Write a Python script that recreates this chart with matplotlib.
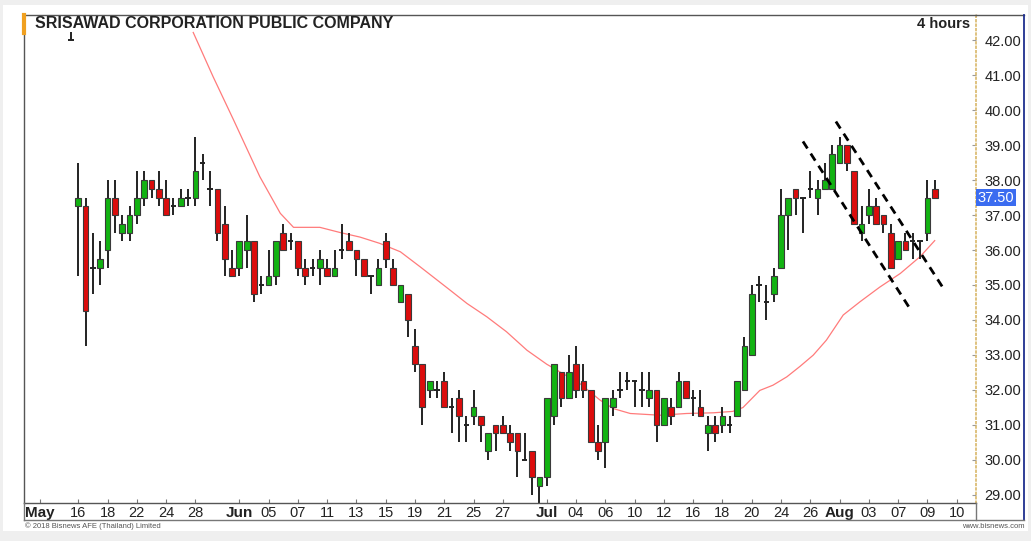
import matplotlib
matplotlib.use('Agg')
import matplotlib.pyplot as plt
from matplotlib.patches import Rectangle
from matplotlib.lines import Line2D
import matplotlib.transforms as mtransforms

plt.rcParams['font.family'] = ['Liberation Sans', 'DejaVu Sans']

# 4-hour candles, index 0..118 (two per trading day)
opens = [42.0,
         37.25, 37.25, 35.5, 35.5, 36.0, 37.5, 36.5, 36.5, 37.0, 37.5,
         38.0, 37.75, 37.5, 37.25, 37.25, 37.5, 37.5, 38.5, 37.75, 37.75,
         36.75, 35.5, 35.5, 36.0, 36.25, 35.0, 35.0, 35.25, 36.5, 36.25,
         36.25, 35.5, 35.5, 35.5, 35.5, 35.25, 36.0, 36.25, 36.0, 35.75,
         35.25, 35.0, 36.25, 35.5, 34.5, 34.75, 33.25, 32.75, 32.0, 32.0,
         32.25, 31.5, 31.75, 31.0, 31.25, 31.25, 30.25, 31.0, 31.0, 30.75,
         30.75, 30.0, 30.25, 29.25, 29.5, 31.25, 32.5, 31.75, 32.75, 32.25,
         32.0, 30.5, 30.5, 31.5, 32.0, 32.25, 32.25, 32.0, 31.75, 32.0,
         31.0, 31.5, 31.5, 32.25, 31.75, 31.5, 30.75, 31.0, 31.0, 31.0,
         31.25, 32.0, 33.0, 35.0, 34.5, 34.75, 35.5, 37.0, 37.75, 37.5,
         37.75, 37.5, 37.75, 37.75, 38.5, 39.0, 38.25, 36.5, 37.0, 37.25,
         37.0, 36.5, 35.75, 36.25, 36.25, 36.25, 36.5, 37.75]
highs = [42.25,
         38.5, 37.5, 36.5, 36.25, 38.0, 38.0, 37.0, 37.25, 38.25, 38.25,
         38.0, 38.25, 38.0, 37.5, 37.75, 37.75, 39.25, 38.75, 38.25, 37.75,
         37.25, 36.0, 36.25, 37.0, 36.25, 35.25, 36.0, 36.25, 36.75, 36.5,
         36.25, 35.75, 35.75, 36.0, 35.75, 36.0, 36.75, 36.5, 36.0, 35.75,
         35.25, 35.75, 36.5, 35.75, 35.0, 34.75, 33.75, 32.75, 32.25, 32.25,
         32.5, 31.75, 32.0, 31.25, 32.0, 31.25, 30.75, 31.0, 31.25, 31.0,
         30.75, 30.75, 30.25, 29.5, 31.75, 32.75, 32.5, 33.0, 33.25, 32.75,
         32.0, 31.0, 31.75, 32.0, 32.5, 32.5, 32.25, 32.5, 32.5, 32.0,
         31.75, 31.75, 32.5, 32.25, 32.0, 32.0, 31.25, 31.25, 31.5, 31.25,
         32.25, 33.5, 35.0, 35.25, 35.0, 35.5, 37.75, 37.5, 37.75, 37.5,
         38.25, 38.0, 38.5, 39.0, 39.25, 39.0, 38.25, 37.25, 37.75, 37.5,
         37.0, 36.75, 36.25, 36.5, 36.5, 36.25, 38.0, 38.0]
lows = [42.0,
        35.25, 33.25, 34.75, 35.0, 35.5, 36.5, 36.25, 36.25, 36.75, 37.25,
        37.5, 37.25, 37.0, 37.0, 37.25, 37.25, 37.25, 38.0, 37.25, 36.25,
        35.25, 35.25, 35.25, 35.5, 34.5, 34.75, 35.0, 35.0, 36.0, 36.0,
        35.25, 35.0, 35.25, 35.0, 35.25, 35.25, 35.75, 36.0, 35.25, 35.25,
        34.75, 35.0, 35.5, 35.0, 34.5, 33.5, 32.5, 31.0, 31.75, 31.75,
        31.5, 30.75, 30.5, 30.5, 31.0, 30.5, 30.0, 30.25, 30.75, 30.25,
        29.5, 30.0, 29.0, 28.75, 29.25, 31.0, 31.5, 31.75, 31.75, 31.75,
        30.5, 30.0, 29.75, 31.25, 31.75, 32.0, 31.5, 31.5, 31.5, 30.5,
        31.0, 31.0, 31.5, 31.75, 31.25, 31.25, 30.25, 30.5, 30.75, 30.75,
        31.25, 32.0, 33.0, 34.5, 34.0, 34.5, 35.5, 36.0, 37.0, 36.5,
        37.5, 37.0, 37.75, 37.75, 38.5, 38.25, 36.75, 36.25, 36.75, 36.75,
        36.5, 35.5, 35.75, 36.0, 35.75, 35.75, 36.25, 37.5]
closes = [42.0,
          37.5, 34.25, 35.5, 35.75, 37.5, 37.0, 36.75, 37.0, 37.5, 38.0,
          37.75, 37.5, 37.0, 37.25, 37.5, 37.5, 38.25, 38.5, 37.75, 36.5,
          35.75, 35.25, 36.25, 36.25, 34.75, 35.0, 35.25, 36.25, 36.0, 36.25,
          35.5, 35.25, 35.5, 35.75, 35.25, 35.5, 36.0, 36.0, 35.75, 35.25,
          35.25, 35.5, 35.75, 35.0, 35.0, 34.0, 32.75, 31.5, 32.25, 32.0,
          31.5, 31.5, 31.25, 31.0, 31.5, 31.0, 30.75, 30.75, 30.75, 30.5,
          30.25, 30.0, 29.5, 29.5, 31.75, 32.75, 31.75, 32.5, 32.0, 32.0,
          30.5, 30.25, 31.75, 31.75, 32.0, 32.25, 32.25, 32.0, 32.0, 31.0,
          31.75, 31.25, 32.25, 31.75, 31.75, 31.25, 31.0, 30.75, 31.25, 31.0,
          32.25, 33.25, 34.75, 35.0, 34.5, 35.25, 37.0, 37.5, 37.5, 37.5,
          37.75, 37.75, 38.0, 38.75, 39.0, 38.5, 36.75, 36.75, 37.25, 36.75,
          36.75, 35.5, 36.25, 36.0, 36.25, 36.25, 37.5, 37.5]

# moving average (candle index, price)
ma_idx = [16.7, 19.4, 22.2, 25.8, 28.6, 30.4, 34.0, 36.8, 39.5, 42.2, 45.0,
          47.7, 51.8, 54.1, 56.8, 59.5, 62.3, 65.0, 66.8, 69.5, 72.3, 74.1,
          76.4, 80.5, 84.1, 87.8, 90.4, 91.8, 94.1, 95.9, 97.8, 99.6, 101.4,
          103.2, 105.5, 107.8, 110.5, 113.3, 116.0, 118.0]
ma_val = [42.23, 40.97, 39.73, 38.10, 37.05, 36.65, 36.65, 36.50, 36.37, 36.19,
          35.95, 35.52, 34.85, 34.47, 34.09, 33.66, 33.13, 32.73, 32.51, 32.18,
          31.70, 31.46, 31.32, 31.27, 31.32, 31.34, 31.38, 31.49, 31.98, 32.13,
          32.37, 32.67, 32.99, 33.42, 34.14, 34.52, 34.94, 35.33, 35.81, 36.27]

# hand-drawn channel lines
trend_a_idx = [100.0, 114.5]
trend_a_val = [39.11, 34.36]
trend_b_idx = [104.5, 119.1]
trend_b_val = [39.68, 34.93]

tick_pos = [-4.2, 1, 5, 9, 13, 17, 23, 27, 31, 35, 39, 43, 47, 51, 55, 59,
            65, 69, 73, 77, 81, 85, 89, 93, 97, 101, 105, 109, 113, 117, 121]
tick_lab = ['May', '16', '18', '22', '24', '28', 'Jun', '05', '07', '11', '13',
            '15', '19', '21', '25', '27', 'Jul', '04', '06', '10', '12', '16',
            '18', '20', '24', '26', 'Aug', '03', '07', '09', '10']
months = ['May', 'Jun', 'Jul', 'Aug']

W, H = 1031, 541
fig = plt.figure(figsize=(W / 100, H / 100), dpi=100, facecolor='#efefef')


def fx(px):
    return px / W


def fy(py):
    return 1 - py / H


# white panel
fig.patches.append(Rectangle((fx(3), fy(531)), fx(1028) - fx(3), fy(5) - fy(531),
                             transform=fig.transFigure, facecolor='white',
                             edgecolor='none', zorder=-10))

ax = fig.add_axes([fx(24), fy(503), fx(976) - fx(24), fy(15) - fy(503)])
ax.set_zorder(2)
ax.set_facecolor('white')
ax.set_xlim(-6.42, 123.64)
ax.set_ylim(28.757, 42.73)

green = '#12b312'
red = '#dc0c0c'
wick = '#222222'
bw = 0.78

for i in range(len(opens)):
    o, h, l, c = opens[i], highs[i], lows[i], closes[i]
    ax.vlines(i, l, h, color=wick, lw=1.4, zorder=2)
    if o == c:
        ax.hlines(o, i - 0.36, i + 0.36, color=wick, lw=1.4, zorder=3)
    else:
        col = green if c > o else red
        ax.add_patch(Rectangle((i - bw / 2, min(o, c)), bw, abs(c - o),
                               facecolor=col, edgecolor='#3a3a3a', lw=0.8, zorder=3))

ax.plot(ma_idx, ma_val, color='#ff7b7b', lw=0.9, zorder=1)
ax.plot(trend_a_idx, trend_a_val, color='black', lw=2, ls=(0, (3, 2.2)), zorder=4)
ax.plot(trend_b_idx, trend_b_val, color='black', lw=2, ls=(0, (3, 2.2)), zorder=4)

# y axis on the right
ax.yaxis.tick_right()
yt = list(range(29, 43))
ax.set_yticks(yt)
ax.set_yticklabels(['%.2f' % v for v in yt], fontsize=10.5, color='#222222')
ax.tick_params(axis='y', direction='in', length=3, pad=6, color='#999999')

# x axis
ax.set_xticks(tick_pos)
ax.set_xticklabels(tick_lab, fontsize=10.5, color='#222222')
for lab in ax.get_xticklabels():
    if lab.get_text() in months:
        lab.set_fontweight('bold')
        lab.set_fontsize(11)
ax.tick_params(axis='x', direction='in', length=3, pad=2, color='#777777')

for s in ['left', 'top', 'bottom']:
    ax.spines[s].set_color('#555555')
    ax.spines[s].set_linewidth(1)
ax.spines['right'].set_color('#d9b86a')
ax.spines['right'].set_linestyle(':')
ax.spines['right'].set_linewidth(1.2)

# last price tag
tr = mtransforms.blended_transform_factory(ax.transAxes, ax.transData)
ax.text(1.002, 37.5, '37.50', transform=tr, ha='left', va='center', fontsize=10.5,
        color='white', bbox=dict(boxstyle='square,pad=0.12', facecolor='#3b6cf0',
                                 edgecolor='none'), zorder=6, clip_on=False)

# frames around axis panel and label row
def fline(xs, ys, color, lw=1):
    fig.lines.append(Line2D([fx(x) for x in xs], [fy(y) for y in ys],
                            transform=fig.transFigure, color=color, lw=lw, zorder=5))


fline([976, 1024], [15, 15], '#555555')
fline([1024, 1024], [15, 520], '#1f2f8f', 1.3)
fline([24, 1024], [520, 520], '#777777')
fline([24, 24], [503, 520], '#777777')
fline([976, 976], [503, 520], '#777777')
fline([24, 24], [15, 33], '#f0a020', 3)

fig.text(fx(35), fy(24), 'SRISAWAD CORPORATION PUBLIC COMPANY', fontsize=11.5,
         fontweight='bold', ha='left', va='center', color='#222222', zorder=6)
fig.text(fx(970), fy(24), '4 hours', fontsize=10.5, fontweight='bold',
         ha='right', va='center', color='#222222', zorder=6)
fig.text(fx(25), fy(526), '\u00a9 2018 Bisnews AFE (Thailand) Limited', fontsize=5.5,
         ha='left', va='center', color='#555555')
fig.text(fx(1025), fy(526), 'www.bisnews.com', fontsize=5.5, ha='right',
         va='center', color='#555555')

fig.savefig('out.png', dpi=100, facecolor=fig.get_facecolor())
